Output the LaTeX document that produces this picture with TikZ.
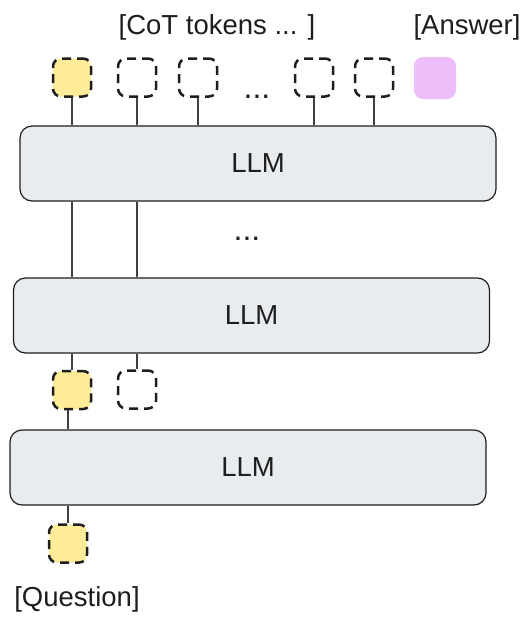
\documentclass[tikz,border=0pt]{standalone}
\usepackage{fontspec}
\setmainfont{Liberation Sans}
\usetikzlibrary{positioning}
\definecolor{strokec}{HTML}{1E1E1E}
\definecolor{llmgray}{HTML}{E9ECEF}
\definecolor{tokyellow}{HTML}{FFEC99}
\definecolor{tokpink}{HTML}{EEBEFA}

\begin{document}
\begin{tikzpicture}[x=1pt, y=-1pt,
  every node/.style={font=\fontsize{27.5}{31}\selectfont, text=strokec},
  llmbox/.style={draw=strokec, fill=llmgray, rounded corners=12pt, line width=1.2pt, minimum width=476pt, minimum height=75pt},
  token/.style={draw=strokec, dash pattern=on 9pt off 6pt, dash phase=3pt, line width=2.5pt, rounded corners=8pt, minimum size=38pt, inner sep=0pt},
  cottok/.style={token, fill=white},
  qtok/.style={token, fill=tokyellow},
  anstok/.style={fill=tokpink, rounded corners=9pt, minimum size=42pt, inner sep=0pt},
  dots/.style={anchor=base, font=\fontsize{32}{36}\selectfont},
  conn/.style={draw=strokec!85, line width=1.1pt}]

  \useasboundingbox (0,0) rectangle (531,624);

  \node [llmbox] (llmtop) at (258,163.5) {LLM};
  \node [llmbox] (llmmid) at (251.5,315.5) {LLM};
  \node [llmbox] (llmbot) at (248,467.5) {LLM};

  % top row of tokens
  \node [qtok] (t1) at (72,77.5) {};
  \node [cottok] (t2) at (137,77.5) {};
  \node [cottok] (t3) at (198,77.5) {};
  \node [cottok] (t4) at (314,77.5) {};
  \node [cottok] (t5) at (374,77.5) {};
  \node [anstok] (ans) at (435,78) {};
  \node [dots] (topdots) at (257,98) {...};

  % middle row
  \node [qtok] (m1) at (72,390) {};
  \node [cottok] (m2) at (137,389.5) {};
  \node [dots] (middots) at (247,240) {...};

  % question
  \node [qtok] (q) at (68,543.5) {};

  \node (cotlabel) at (217,27) {[CoT tokens ... ]};
  \node (anslabel) at (467,27) {[Answer]};
  \node (qlabel) at (77,599) {[Question]};

  \foreach \t in {t1,t2,t3,t4,t5}
    \draw [conn] (\t.south) -- (\t.south |- llmtop.north);
  \foreach \t in {t1,t2}
    \draw [conn] (\t |- llmtop.south) -- (\t |- llmmid.north);
  \foreach \t in {m1,m2}
    \draw [conn] (\t |- llmmid.south) -- (\t.north);
  \draw [conn] (q |- m1.south) -- (q |- llmbot.north);
  \draw [conn] (q |- llmbot.south) -- (q.north);
\end{tikzpicture}
\end{document}
